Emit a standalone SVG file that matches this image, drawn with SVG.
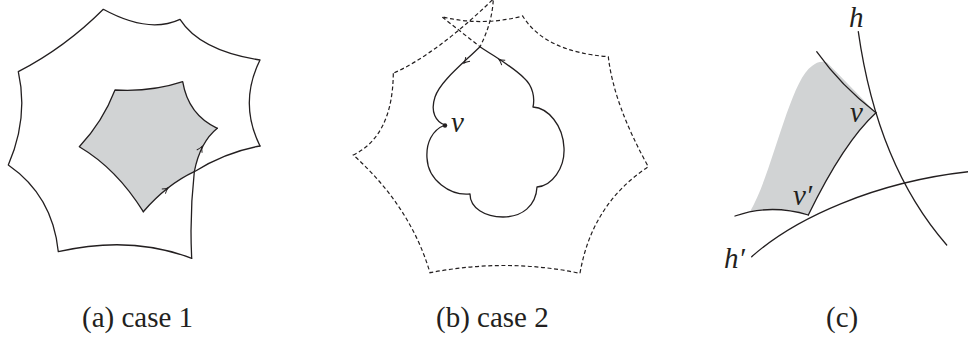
<svg xmlns="http://www.w3.org/2000/svg" width="968" height="342" viewBox="0 0 968 342">
<style>
.ln{fill:none;stroke:#231f20;stroke-width:1.3;stroke-linejoin:round;stroke-linecap:round}
.ds{fill:none;stroke:#231f20;stroke-width:1.2;stroke-dasharray:4 2.6}
.gr{fill:#d1d3d4;stroke:none}
.tx{font-family:"Liberation Serif","DejaVu Serif",serif;font-size:29px;fill:#231f20}
.it{font-family:"Liberation Serif","DejaVu Serif",serif;font-style:italic;font-size:29px;fill:#231f20}
.ar{fill:none;stroke:#231f20;stroke-width:1.1;marker-end:url(#arr)}
</style>
<defs>
<marker id="arr" markerUnits="userSpaceOnUse" markerWidth="12" markerHeight="12" viewBox="-7 -6 8 12" refX="0" refY="0" orient="auto" overflow="visible">
<path d="M-5.5,-3 Q-2.5,-0.8 0,0 Q-2.5,0.8 -5.5,3" fill="none" stroke="#231f20" stroke-width="1"/>
</marker>
</defs>
<rect width="968" height="342" fill="#ffffff"/>

<g id="panel-a">
<path class="gr" d="M115,90 Q151.2,92.2 182.7,81.7 Q188.3,115 217.3,128.3 Q200.2,142 194.3,171.7 Q167.2,184.3 143.3,211.7 Q116.7,168.8 79.3,146.7 Q102.8,121.7 115,90 Z"/>
<path id="inner-edge" class="ln" d="M143.3,211.7 Q116.7,168.8 79.3,146.7 Q102.8,121.7 115,90 Q151.2,92.2 182.7,81.7 Q188.3,115 217.3,128.3"/>
<path id="outer-boundary" class="ln" d="M191.7,258.3 Q131,235 58.3,251.7 Q52.7,195.7 8.3,165 Q28.7,117.7 18.3,71.7 Q65.2,47.5 103.3,9.3 Q148.5,34 180,19.3 Q200,50.5 260,60 Q238.6,103 260,146"/>
<g id="connectors-a">
<path class="ln" d="M217.3,128.3 Q200.2,142 194.3,171.7 Q189.5,215 191.7,258.3"/>
<path class="ln" d="M260,146 Q226,152 194.3,171.7 Q167.2,184.3 143.3,211.7"/>
<path class="ar" d="M201.06,148.27 L202,146.5"/>
<path class="ar" d="M166.4,189.2 L168,188"/>
</g>
</g>

<g id="panel-b">
<path id="dashed-boundary" class="ds" d="M393.3,73.3 Q392.7,135.8 353.3,155 Q410.3,206.2 430,272.7 Q507,258 580,273.3 Q591.8,204 648.3,166.7 Q613.7,104.3 608.3,56.7 Q544.5,51.7 522.7,16 Q481.8,26.7 441.7,16.7 L480,46.7 Q492.3,22.7 493.3,-1 Q436.7,53.8 393.3,73.3"/>
<g id="connectors-b">
<path id="loop" class="ln" d="M480,46.7 C460,66 440,82 435,97 C430,112 436,122 445,125 C432,130 426,143 427,158 C428,180 450,196 470,194 C470,208 485,217 503,217 C522,217 536,206 537,187 C552,186 565,168 564,148 C563,125 548,108 533,107 C535,98 533,86 524,78 C512,66 495,57 480,46.7"/>
<path class="ar" d="M465.4,61.6 L464,63"/>
<path class="ar" d="M500.6,60.65 L499,59.5"/>
</g>
<g id="node-v">
<circle cx="445" cy="125.5" r="2.2" fill="#231f20"/>
<text class="it" x="451" y="131.5">v</text>
</g>
</g>

<g id="panel-c">
<path class="gr" d="M808.3,215 Q780,205 750,211.7 C772,175 790,80 812,66 Q819,60 827,62.5 L876,112.7 Q843.8,142.1 808.3,215 Z"/>
<g id="connectors-c">
<path id="curve-h" class="ln" d="M858.3,31.7 C868,100 890,180 946.7,245"/>
<path id="curve-hp" class="ln" d="M751.7,256.7 C795,218 875,182 968.5,171.7"/>
<path class="ln" d="M816.7,51.7 Q841,86 876,112.7"/>
<path class="ln" d="M876,112.7 Q843.8,142.1 808.3,215"/>
<path class="ln" d="M735,216 Q770.3,203.5 808.3,215"/>
</g>
<text class="it" x="849" y="27">h</text>
<text class="it" x="850" y="121.5">v</text>
<text class="it" x="793" y="205">v′</text>
<text class="it" x="724" y="268">h′</text>
</g>

<g id="captions">
<text class="tx" x="82" y="327">(a) case 1</text>
<text class="tx" x="436" y="327">(b) case 2</text>
<text class="tx" x="826" y="327">(c)</text>
</g>
</svg>
